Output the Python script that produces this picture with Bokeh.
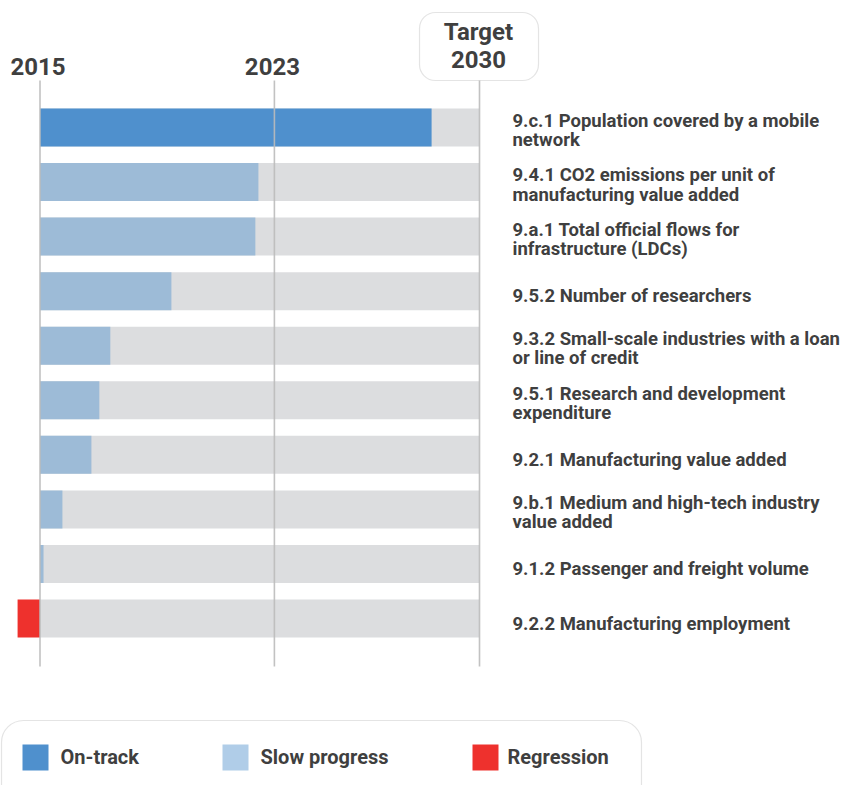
from bokeh.plotting import figure
from bokeh.models import Range1d, ColumnDataSource, BoxAnnotation
from bokeh.embed import file_html
from bokeh.resources import INLINE
from bokeh.core.properties import value

# ---------------- data ----------------
indicators = [
    "9.c.1 Population covered by a mobile\nnetwork",
    "9.4.1 CO2 emissions per unit of\nmanufacturing value added",
    "9.a.1 Total official flows for\ninfrastructure (LDCs)",
    "9.5.2 Number of researchers",
    "9.3.2 Small-scale industries with a loan\nor line of credit",
    "9.5.1 Research and development\nexpenditure",
    "9.2.1 Manufacturing value added",
    "9.b.1 Medium and high-tech industry\nvalue added",
    "9.1.2 Passenger and freight volume",
    "9.2.2 Manufacturing employment",
]
# progress made since 2015 as a share of the distance to the 2030 target
progress = [0.891, 0.497, 0.490, 0.299, 0.160, 0.135, 0.117, 0.051, 0.008, -0.051]
status = ["On-track", "Slow progress", "Slow progress", "Slow progress", "Slow progress",
          "Slow progress", "Slow progress", "Slow progress", "Slow progress", "Regression"]
years = [2015, 2023, 2030]
year_labels = ["2015", "2023"]
target_label = ["Target", "2030"]
legend_labels = ["On-track", "Slow progress", "Regression"]

bar_colors = {"On-track": "#4f90cd", "Slow progress": "#9dbbd7", "Regression": "#ee312d"}
legend_colors = ["#4f90cd", "#b0cde8", "#ee312d"]
TRACK = "#dcdddf"
TEXT = "#3f3f3f"
LINE = "#bbbbbb"
FONT = "Roboto"

# ---------------- layout ----------------
W, H = 846, 785
PX0, PXU = 39.5, 439.5      # canvas x of 0 progress, px per unit progress
ROW0, ROWU = 127.0, 54.56   # canvas y of first row, px per row


def sx(px):
    return (px - PX0) / PXU


def sy(py):
    return (py - ROW0) / ROWU


p = figure(width=W, height=H, output_backend="svg", toolbar_location=None,
           x_range=Range1d(sx(0), sx(W)), y_range=Range1d(sy(H), sy(0)),
           x_axis_location=None, y_axis_location=None, min_border=0)
p.grid.visible = False
p.outline_line_color = None
p.background_fill_color = "white"
p.border_fill_color = "white"

rows = list(range(len(indicators)))
src = ColumnDataSource(dict(
    y=rows,
    left=[min(0.0, v) for v in progress],
    right=[max(0.0, v) for v in progress],
    color=[bar_colors[s] for s in status],
    label=indicators,
    ly=[r + (3.0 if "\n" in t else 5.0) / ROWU for r, t in zip(rows, indicators)],
))

bar_h = 38.0 / ROWU
p.hbar(y="y", left=0, right=1.0, height=bar_h, fill_color=TRACK, line_color=None, source=src)
p.hbar(y="y", left="left", right="right", height=bar_h, fill_color="color", line_color=None, source=src)

# vertical reference lines at 2015, 2023, 2030
yfrac = [(y - years[0]) / (years[-1] - years[0]) for y in years]
p.segment(x0=yfrac, x1=yfrac, y0=[sy(80)] * 3, y1=[sy(666)] * 3,
          line_color=LINE, line_width=1.6, line_alpha=0.9)

# year labels
p.text(x=yfrac[:2], y=[sy(65.5)] * 2, text=year_labels, text_align="center",
       text_baseline="middle", text_font=value(FONT), text_font_style="bold",
       text_font_size="24px", text_color=TEXT, x_offset=-2)

# target box
p.add_layout(BoxAnnotation(left=sx(419), right=sx(538), top=sy(12), bottom=sy(80),
                           border_radius=16, fill_color="white", fill_alpha=1,
                           line_color="#a6a6a6", line_width=1.2, level="underlay"))
p.text(x=[yfrac[2]] * 2, y=[sy(31.5), sy(59)], text=target_label, text_align="center",
       text_baseline="middle", text_font=value(FONT), text_font_style="bold",
       text_font_size="24px", text_color=TEXT, x_offset=-1)

# indicator labels
p.text(x=sx(512), y="ly", text="label", source=src, text_align="left",
       text_baseline="middle", text_font=value(FONT), text_font_style="bold",
       text_font_size="18.5px", text_line_height=0.88, text_color=TEXT)

# legend
p.add_layout(BoxAnnotation(left=sx(1), right=sx(641), top=sy(720), bottom=sy(840),
                           border_radius=22, fill_color="white", fill_alpha=1,
                           line_color="#a6a6a6", line_width=1.2, level="underlay"))
p.rect(x=[sx(35), sx(235), sx(485)], y=[sy(757)] * 3, width=26, height=26,
       width_units="screen", height_units="screen", fill_color=legend_colors, line_color=None)
p.text(x=[sx(60), sx(260), sx(507)], y=[sy(756)] * 3, text=legend_labels,
       text_align="left", text_baseline="middle", text_font=value(FONT),
       text_font_style="bold", text_font_size="20px", text_color=TEXT)

open("out.html", "w").write(file_html(p, INLINE))
